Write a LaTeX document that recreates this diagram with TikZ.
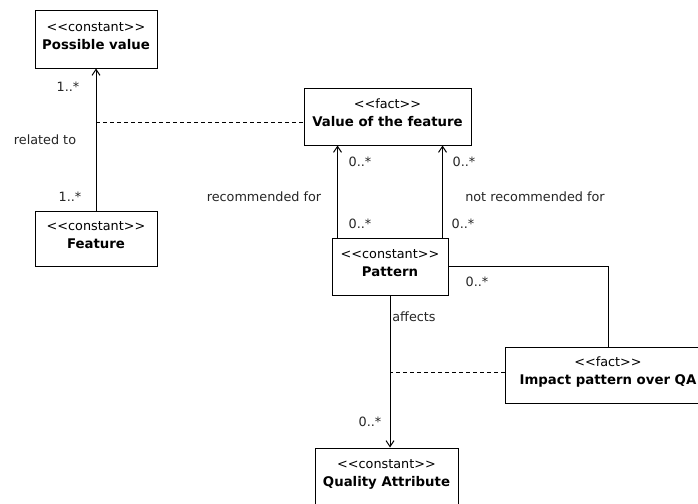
\documentclass[tikz,border=0pt]{standalone}
\usepackage{fontspec}
\setmainfont{DejaVu Sans}
\usetikzlibrary{arrows.meta,calc}
\newcommand{\stereo}[1]{{<}{<}#1{>}{>}}
\newcommand{\nm}[1]{{\bfseries\fontsize{13.3}{18}\selectfont #1}}
\newcommand{\boxtext}[2]{\raisebox{3pt}[\height][\depth]{\begin{tabular}{@{}c@{}}\stereo{#1}\\\nm{#2}\end{tabular}}}
\tikzset{
  umlbox/.style={draw, line width=1pt, inner sep=0pt, align=center,
    font=\fontsize{12.8}{18}\selectfont},
  lbl/.style={inner sep=0pt, font=\fontsize{12.8}{15}\selectfont, text=black!85},
  assoc/.style={line width=1pt},
  nav/.style={line width=1pt, -{Straight Barb[length=6pt,width=8pt,line width=1pt]}},
  dep/.style={line width=0.8pt, dash pattern=on 4pt off 3pt}
}
\begin{document}
\begin{tikzpicture}[x=1pt,y=-1pt]
\useasboundingbox (0,0) rectangle (698,503);
\fill[white] (0,0) rectangle (698,503);
\clip (0,0) rectangle (698,503);
% boxes
\node[umlbox, minimum width=122, minimum height=57] (pv) at (96,39.5) {\boxtext{constant}{Possible value}};
\node[umlbox, minimum width=122, minimum height=55] (feat) at (96,238.5) {\boxtext{constant}{Feature}};
\node[umlbox, minimum width=167, minimum height=57] (val) at (387.5,116.5) {\boxtext{fact}{Value of the feature}};
\node[umlbox, minimum width=116, minimum height=57] (pat) at (390,266.5) {\boxtext{constant}{Pattern}};
\node[umlbox, minimum width=206, minimum height=56] (imp) at (608,375) {\boxtext{fact}{Impact pattern over QA}};
\node[umlbox, minimum width=143, minimum height=58] (qa) at (386.5,477) {\boxtext{constant}{Quality Attribute}};
% connectors
\draw[nav] (feat.north) -- (pv.south);
\coordinate (relmid) at ($(feat.north)!0.62!(pv.south)$);
\draw[dep] (relmid) -- (relmid -| val.west);
\coordinate (recA) at ($(pat.north west)+(6,0)$);
\draw[nav] (recA) -- (recA |- val.south);
\coordinate (recB) at ($(pat.north east)+(-6,0)$);
\draw[nav] (recB) -- (recB |- val.south);
\draw[nav] (pat.south) -- (pat.south |- qa.north);
\draw[assoc] (pat.east) -| (imp.north);
\coordinate (affmid) at ($(imp.west)+(0,-3)$);
\draw[dep] (affmid) -- (affmid -| pat.south);
% labels
\node[lbl] (l1) at (68,87) {1..*};
\node[lbl] (l2) at (70,197) {1..*};
\node[lbl] (l3) at (45,140) {related to};
\node[lbl] (l4) at (360,162) {0..*};
\node[lbl] (l5) at (360,224) {0..*};
\node[lbl] (l6) at (464,162) {0..*};
\node[lbl] (l7) at (463,224) {0..*};
\node[lbl] (l8) at (264,197) {recommended for};
\node[lbl] (l9) at (535,197) {not recommended for};
\node[lbl] (l10) at (477,282) {0..*};
\node[lbl] (l11) at (414,317) {affects};
\node[lbl] (l12) at (370,422) {0..*};
\end{tikzpicture}
\end{document}
